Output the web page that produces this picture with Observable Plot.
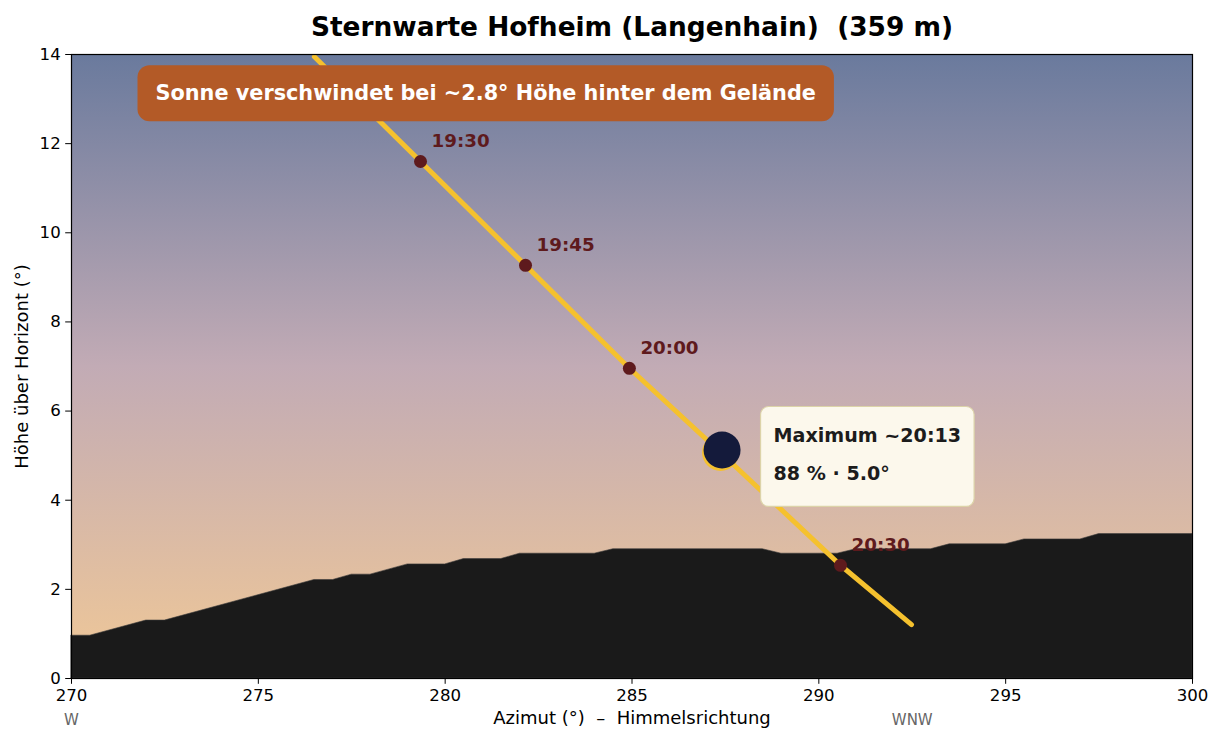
<!DOCTYPE html>
<html><head><meta charset="utf-8">
<script src="https://cdn.jsdelivr.net/npm/d3@7"></script>
<script src="https://cdn.jsdelivr.net/npm/@observablehq/plot@0.6"></script>
<style>
body{margin:0;background:#fff;}
#chart svg{display:block;}
</style>
</head><body><div id="chart"></div>
<script>
// ---- data ----
const terrainAz  = [270, 270.5, 272, 272.5, 276.5, 277, 277.5, 278, 279, 280, 280.5, 281.5, 282, 284, 284.5, 288.5, 289, 290.5, 291, 293, 293.5, 295, 295.5, 297, 297.5, 300];
const terrainAlt = [0.96, 0.96, 1.30, 1.30, 2.21, 2.21, 2.33, 2.33, 2.56, 2.56, 2.68, 2.68, 2.80, 2.80, 2.90, 2.90, 2.80, 2.80, 2.90, 2.90, 3.01, 3.01, 3.12, 3.12, 3.24, 3.24];

const pathTime = ["19:15", "19:30", "19:45", "20:00", "20:13", "20:30", "20:40"];
const pathAz   = [276.5, 279.34, 282.15, 284.93, 287.37, 290.58, 292.48];
const pathAlt  = [13.95, 11.60, 9.27, 6.96, 5.07, 2.54, 1.21];

const markTimes = ["19:30", "19:45", "20:00", "20:30"];
const markAz    = [279.34, 282.15, 284.93, 290.58];
const markAlt   = [11.60, 9.27, 6.96, 2.54];

const maxTime = "20:13";
const maxAz = 287.37;
const maxAlt = 5.07;
const maxCoverage = "88 %";
const maxAltText = "5.0°";

const dirAz = [270, 292.5];
const dirLabels = ["W", "WNW"];

const xTicks = [270, 275, 280, 285, 290, 295, 300];
const yTicks = [0, 2, 4, 6, 8, 10, 12, 14];

const titleText = "Sternwarte Hofheim (Langenhain)  (359 m)";
const bannerText = "Sonne verschwindet bei ~2.8° Höhe hinter dem Gelände";
const xLabel = "Azimut (°)  –  Himmelsrichtung";
const yLabel = "Höhe über Horizont (°)";

// ---- tables ----
const terrain = terrainAz.map((a, i) => ({az: a, alt: terrainAlt[i]}));
const path = pathAz.map((a, i) => ({time: pathTime[i], az: a, alt: pathAlt[i]}));
const marks = markAz.map((a, i) => ({time: markTimes[i], az: a, alt: markAlt[i]}));
const maxPt = [{az: maxAz, alt: maxAlt, label: `Maximum ~${maxTime}\n${maxCoverage} · ${maxAltText}`}];
const dirs = dirAz.map((a, i) => ({az: a, label: dirLabels[i]}));

const FONT = "DejaVu Sans, sans-serif";
const YELLOW = "#f5c12e", DARKRED = "#5e1a1d", NAVY = "#141a3b";

const svg = Plot.plot({
  width: 1224, height: 744,
  marginLeft: 71, marginRight: 32, marginTop: 54, marginBottom: 66,
  style: {fontFamily: FONT, fontSize: "16.6px", color: "#000", background: "#fff"},
  x: {domain: [270, 300]},
  y: {domain: [0, 14]},
  marks: [
    Plot.frame({fill: "url(#skygrad)"}),
    Plot.areaY(terrain, {x: "az", y: "alt", fill: "#1a1a1a", stroke: "#3a3a3a", strokeWidth: 0.6}),
    Plot.line(path, {x: "az", y: "alt", stroke: YELLOW, strokeWidth: 5, strokeLinecap: "round", strokeLinejoin: "round", clip: true}),
    Plot.dot(marks, {x: "az", y: "alt", r: 6.5, fill: DARKRED}),
    Plot.text(marks, {x: "az", y: "alt", text: "time", dx: 11, dy: -20, textAnchor: "start", fill: DARKRED, fontWeight: "bold", fontSize: 18.3, fontFamily: FONT}),
    Plot.dot(maxPt, {x: "az", y: "alt", r: 18.5, fill: YELLOW}),
    Plot.dot(maxPt, {x: "az", y: "alt", r: 18.5, fill: NAVY, dx: 1.5, dy: -2.5}),
    Plot.text(maxPt, {x: "az", y: "alt", text: "label", dx: 53, dy: -4, textAnchor: "start", lineAnchor: "middle", lineHeight: 2.04, fill: "#1c1c1c", fontWeight: "bold", fontSize: 19.1, fontFamily: FONT}),
    Plot.text([bannerText], {frameAnchor: "top-left", text: d => d, dx: 84, dy: 39, textAnchor: "start", lineAnchor: "middle", fill: "#fff", fontWeight: "bold", fontSize: 20.8, fontFamily: FONT}),
    Plot.frame({stroke: "#000", strokeWidth: 1.2}),
    Plot.axisX({ticks: xTicks, tickSize: 5.8, tickPadding: 5, tickFormat: d => String(d), label: null}),
    Plot.axisY({ticks: yTicks, tickSize: 5.8, tickPadding: 5, tickFormat: d => String(d), label: null}),
    Plot.text(dirs, {x: "az", text: "label", frameAnchor: "bottom", dy: 42, lineAnchor: "middle", fill: "#666", fontSize: 15, fontFamily: FONT}),
    Plot.text([xLabel], {text: d => d, frameAnchor: "bottom", dy: 40, lineAnchor: "middle", fill: "#000", fontSize: 18, fontFamily: FONT}),
    Plot.text([yLabel], {text: d => d, frameAnchor: "left", dx: -49, rotate: -90, textAnchor: "middle", lineAnchor: "middle", fill: "#000", fontSize: 18, fontFamily: FONT}),
    Plot.text([titleText], {text: d => d, frameAnchor: "top", dy: -27, lineAnchor: "middle", fill: "#000", fontWeight: "bold", fontSize: 26.4, fontFamily: FONT})
  ]
});

const ns = "http://www.w3.org/2000/svg";
const defs = document.createElementNS(ns, "defs");
const grad = document.createElementNS(ns, "linearGradient");
grad.setAttribute("id", "skygrad");
grad.setAttribute("x1", "0"); grad.setAttribute("y1", "0");
grad.setAttribute("x2", "0"); grad.setAttribute("y2", "1");
[["0%", "#6a7a9d"], ["50%", "#c2abb5"], ["100%", "#f0c897"]].forEach(([o, c]) => {
  const s = document.createElementNS(ns, "stop");
  s.setAttribute("offset", o); s.setAttribute("stop-color", c);
  grad.appendChild(s);
});
defs.appendChild(grad);
svg.insertBefore(defs, svg.firstChild);

document.getElementById("chart").appendChild(svg);

function boxBehind(startsWith, px, pt, pb, rx, fill, stroke) {
  const texts = Array.from(svg.querySelectorAll("text"));
  const t = texts.find(el => (el.textContent || "").startsWith(startsWith));
  if (!t) return;
  const sr = svg.getBoundingClientRect();
  const r = t.getBoundingClientRect();
  const rect = document.createElementNS(ns, "rect");
  rect.setAttribute("x", r.left - sr.left - px);
  rect.setAttribute("y", r.top - sr.top - pt);
  rect.setAttribute("width", r.width + 2 * px);
  rect.setAttribute("height", r.height + pt + pb);
  rect.setAttribute("rx", rx);
  rect.setAttribute("fill", fill);
  if (stroke) { rect.setAttribute("stroke", stroke); rect.setAttribute("stroke-width", 1.2); }
  const g = t.parentNode;
  g.parentNode.insertBefore(rect, g);
}
boxBehind("Sonne", 18, 16, 16, 12, "#b35a27");
boxBehind("Maximum", 13, 17, 21, 8, "#fcf8ec", "#dcd3a8");
</script>
</body></html>
